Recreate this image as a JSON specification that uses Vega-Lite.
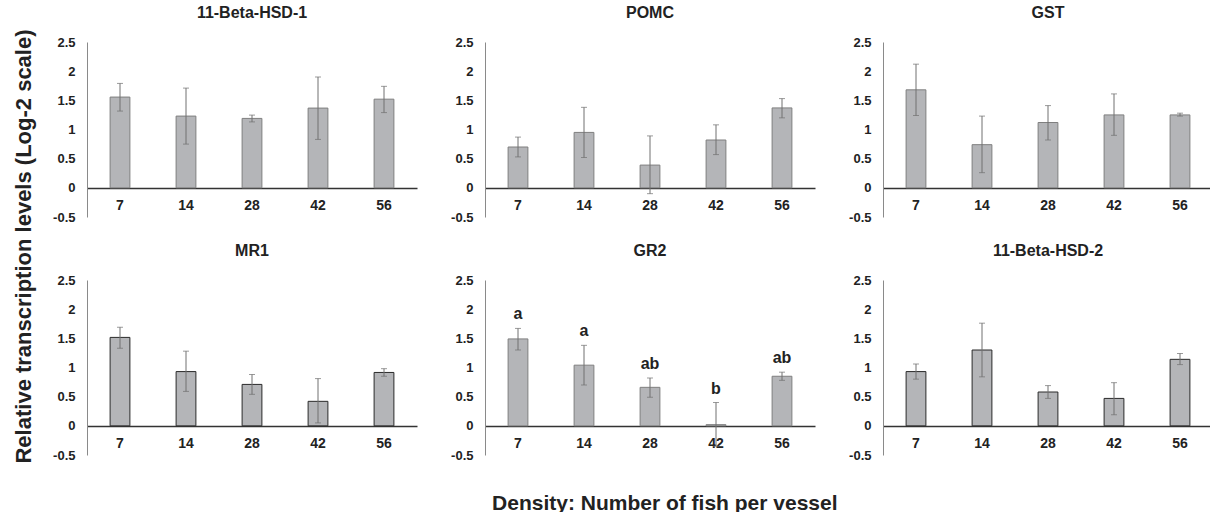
{
  "$schema": "https://vega.github.io/schema/vega-lite/v6.json",
  "padding": {"left": 12, "top": 5, "right": 0, "bottom": 0},
  "config": {
    "font": "Liberation Sans",
    "view": {"stroke": null},
    "axisY": {"values": [-0.5, 0, 0.5, 1, 1.5, 2, 2.5], "labelExpr": "datum.value + ''", "grid": false, "ticks": false, "tickSize": 0, "domainColor": "#8a8a8a", "domainWidth": 1, "labelFontWeight": "bold", "labelFontSize": 13, "labelColor": "#222222", "labelPadding": 12},
    "title": {"fontWeight": "bold", "color": "#222222"}
  },
  "title": {"text": "Relative transcription levels (Log-2 scale)", "orient": "left", "fontSize": 22, "anchor": "middle", "offset": 17, "dx": 13},
  "vconcat": [
    {
      "title": {"text": "Density: Number of fish per vessel", "orient": "bottom", "fontSize": 21, "anchor": "middle", "offset": 31, "dx": 32},
      "data": {"values": [
        {"gene": "11-Beta-HSD-1", "density": 7, "mean": 1.556, "lo": 1.316, "hi": 1.79, "letter": ""},
        {"gene": "11-Beta-HSD-1", "density": 14, "mean": 1.23, "lo": 0.75, "hi": 1.71, "letter": ""},
        {"gene": "11-Beta-HSD-1", "density": 28, "mean": 1.19, "lo": 1.13, "hi": 1.247, "letter": ""},
        {"gene": "11-Beta-HSD-1", "density": 42, "mean": 1.367, "lo": 0.83, "hi": 1.9, "letter": ""},
        {"gene": "11-Beta-HSD-1", "density": 56, "mean": 1.52, "lo": 1.29, "hi": 1.74, "letter": ""},
        {"gene": "POMC", "density": 7, "mean": 0.7, "lo": 0.53, "hi": 0.87, "letter": ""},
        {"gene": "POMC", "density": 14, "mean": 0.95, "lo": 0.52, "hi": 1.38, "letter": ""},
        {"gene": "POMC", "density": 28, "mean": 0.39, "lo": -0.1, "hi": 0.89, "letter": ""},
        {"gene": "POMC", "density": 42, "mean": 0.82, "lo": 0.57, "hi": 1.08, "letter": ""},
        {"gene": "POMC", "density": 56, "mean": 1.37, "lo": 1.2, "hi": 1.53, "letter": ""},
        {"gene": "GST", "density": 7, "mean": 1.68, "lo": 1.24, "hi": 2.12, "letter": ""},
        {"gene": "GST", "density": 14, "mean": 0.74, "lo": 0.26, "hi": 1.23, "letter": ""},
        {"gene": "GST", "density": 28, "mean": 1.12, "lo": 0.82, "hi": 1.41, "letter": ""},
        {"gene": "GST", "density": 42, "mean": 1.25, "lo": 0.9, "hi": 1.61, "letter": ""},
        {"gene": "GST", "density": 56, "mean": 1.25, "lo": 1.23, "hi": 1.28, "letter": ""},
        {"gene": "MR1", "density": 7, "mean": 1.516, "lo": 1.33, "hi": 1.69, "letter": ""},
        {"gene": "MR1", "density": 14, "mean": 0.93, "lo": 0.59, "hi": 1.28, "letter": ""},
        {"gene": "MR1", "density": 28, "mean": 0.71, "lo": 0.54, "hi": 0.88, "letter": ""},
        {"gene": "MR1", "density": 42, "mean": 0.42, "lo": 0.05, "hi": 0.81, "letter": ""},
        {"gene": "MR1", "density": 56, "mean": 0.915, "lo": 0.85, "hi": 0.98, "letter": ""},
        {"gene": "GR2", "density": 7, "mean": 1.49, "lo": 1.3, "hi": 1.67, "letter": "a"},
        {"gene": "GR2", "density": 14, "mean": 1.04, "lo": 0.7, "hi": 1.38, "letter": "a"},
        {"gene": "GR2", "density": 28, "mean": 0.66, "lo": 0.49, "hi": 0.82, "letter": "ab"},
        {"gene": "GR2", "density": 42, "mean": 0.02, "lo": -0.35, "hi": 0.4, "letter": "b"},
        {"gene": "GR2", "density": 56, "mean": 0.85, "lo": 0.78, "hi": 0.92, "letter": "ab"},
        {"gene": "11-Beta-HSD-2", "density": 7, "mean": 0.93, "lo": 0.8, "hi": 1.06, "letter": ""},
        {"gene": "11-Beta-HSD-2", "density": 14, "mean": 1.3, "lo": 0.84, "hi": 1.76, "letter": ""},
        {"gene": "11-Beta-HSD-2", "density": 28, "mean": 0.58, "lo": 0.47, "hi": 0.69, "letter": ""},
        {"gene": "11-Beta-HSD-2", "density": 42, "mean": 0.47, "lo": 0.19, "hi": 0.74, "letter": ""},
        {"gene": "11-Beta-HSD-2", "density": 56, "mean": 1.14, "lo": 1.05, "hi": 1.24, "letter": ""}
      ]},
      "facet": {"field": "gene", "type": "nominal", "sort": ["11-Beta-HSD-1", "POMC", "GST", "MR1", "GR2", "11-Beta-HSD-2"], "header": {"title": null, "labelFontSize": 16, "labelFontWeight": "bold", "labelColor": "#222222", "labelPadding": 15}},
      "columns": 3,
      "bounds": "flush",
      "spacing": {"row": 63, "column": 68},
      "resolve": {"axis": {"x": "independent", "y": "independent"}},
      "spec": {
        "width": 330,
        "height": 175,
        "encoding": {
          "x": {"field": "density", "type": "ordinal", "sort": [7, 14, 28, 42, 56], "scale": {"paddingInner": 0.7, "paddingOuter": 0.35},
            "axis": {"title": null, "offset": -29, "ticks": false, "tickSize": 0, "domainColor": "#333333", "domainWidth": 1.5, "labelAngle": 0, "labelFontWeight": "bold", "labelFontSize": 14, "labelColor": "#222222", "labelPadding": 10}}
        },
        "layer": [
          {"mark": {"type": "bar", "fill": "#b4b5b8", "strokeWidth": 1},
           "encoding": {
             "y": {"field": "mean", "type": "quantitative", "scale": {"domain": [-0.5, 2.5], "nice": false}, "axis": {"title": null}},
             "stroke": {"condition": {"test": "datum.gene == 'MR1' || datum.gene == '11-Beta-HSD-2'", "value": "#2a2a2a"}, "value": "#7f7f7f"}
           }},
          {"mark": {"type": "rule", "color": "#707070", "strokeWidth": 1},
           "encoding": {"y": {"field": "lo", "type": "quantitative", "axis": {"title": null}}, "y2": {"field": "hi"}}},
          {"mark": {"type": "tick", "color": "#707070", "size": 6, "thickness": 1},
           "encoding": {"y": {"field": "lo", "type": "quantitative", "axis": {"title": null}}}},
          {"mark": {"type": "tick", "color": "#707070", "size": 6, "thickness": 1},
           "encoding": {"y": {"field": "hi", "type": "quantitative", "axis": {"title": null}}}},
          {"mark": {"type": "text", "dy": -14, "fontSize": 16, "fontWeight": "bold", "color": "#222222", "baseline": "middle"},
           "encoding": {"y": {"field": "hi", "type": "quantitative", "axis": {"title": null}}, "text": {"field": "letter"}}}
        ]
      }
    }
  ]
}
